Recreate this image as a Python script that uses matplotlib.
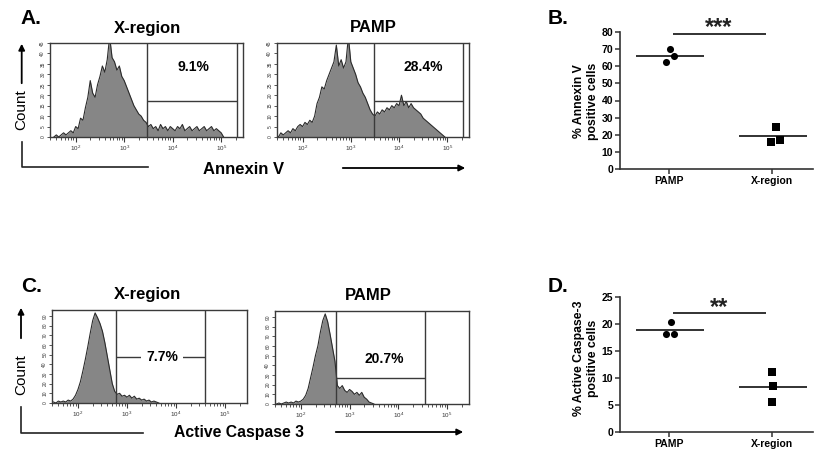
import numpy as np
import matplotlib
matplotlib.use("Agg")
import matplotlib.pyplot as plt
from matplotlib.lines import Line2D
from matplotlib.patches import FancyArrowPatch

plt.rcParams['font.family'] = ['Liberation Sans', 'DejaVu Sans']
plt.rcParams['mathtext.fontset'] = 'custom'
plt.rcParams['mathtext.rm'] = 'Liberation Sans'

# ---------------- data ----------------
BIN_STEP = 0.05  # log10 units per histogram channel

# Panel A: Annexin V histograms (first bin centre, counts)
A_xregion_start = 1.55
A_xregion_counts = [0, 1, 0, 1, 2, 1, 2, 3, 2,
                    5, 4, 9, 8, 14, 19, 27, 21, 19, 25,
                    29, 34, 31, 37, 48, 38, 36, 32, 34, 29,
                    27, 24, 21, 18, 15, 13, 11, 10, 8, 7,
                    5, 6, 4, 5, 3, 6, 4, 5, 3, 5,
                    4, 3, 5, 4, 6, 3, 4, 5, 3, 4,
                    5, 3, 4, 5, 3, 4, 5, 3, 4, 3,
                    2, 0]
A_pamp_start = 1.45
A_pamp_counts = [1, 0, 2, 1, 2, 3, 2, 4, 3, 5,
                 6, 5, 7, 6, 8, 7, 10, 16, 19, 24,
                 23, 27, 30, 33, 36, 44, 34, 37, 33, 36,
                 48, 36, 33, 30, 26, 24, 21, 19, 16, 13,
                 11, 10, 12, 11, 13, 12, 14, 13, 15, 14,
                 16, 15, 20, 15, 17, 14, 16, 14, 13, 12,
                 11, 9, 8, 7, 6, 5, 4, 3, 2, 1, 0]
A_gate = [3.48, 5.32]      # gate start / end (log10)
A_gate_level = 17          # count level of gate line
A_pct = ["9.1%", "28.4%"]

# Panel C: Active Caspase 3 histograms
C_xregion_start = 1.50
C_xregion_counts = [1, 0, 2, 1, 2, 1, 3, 2, 4, 8,
                    14, 22, 33, 45, 58, 72, 85, 93, 88, 82,
                    74, 62, 48, 34, 20, 12, 9, 10, 7, 8,
                    6, 8, 5, 7, 4, 5, 3, 4, 2, 3,
                    1, 2, 1, 0]
C_pamp_start = 1.50
C_pamp_counts = [0, 1, 0, 1, 2, 1, 2, 1, 3, 2,
                 3, 5, 9, 16, 27, 38, 50, 60, 74, 86,
                 93, 85, 72, 58, 44, 19, 16, 19, 14, 12,
                 15, 13, 10, 12, 9, 12, 7, 5, 2, 1, 0]
C_gate_xregion = [2.77, 4.60]
C_gate_pamp = [2.72, 4.55]
C_gate_level = [47, 27]
C_pct = ["7.7%", "20.7%"]

hist_ticks = [2, 3, 4, 5]
hist_ticklabels = [r'$10^2$', r'$10^3$', r'$10^4$', r'$10^5$']

# Panels B and D: dot plots
groups = ["PAMP", "X-region"]
B_pamp = [70.2, 65.8, 62.3]
B_xregion = [24.7, 16.0, 16.7]
D_pamp = [20.3, 18.1, 18.2]
D_xregion = [11.1, 8.5, 5.5]

# ---------------- layout helpers ----------------
W, H = 814, 451
fig = plt.figure(figsize=(W / 100, H / 100), dpi=100)


def rect(x0, y0, x1, y1):
    return [x0 / W, 1 - y1 / H, (x1 - x0) / W, (y1 - y0) / H]


def ftext(x, y, s, **kw):
    return fig.text(x / W, 1 - y / H, s, **kw)


def fline(xs, ys, **kw):
    fig.add_artist(Line2D([x / W for x in xs], [1 - y / H for y in ys],
                          transform=fig.transFigure, **kw))


def farrow(p0, p1):
    fig.add_artist(FancyArrowPatch((p0[0] / W, 1 - p0[1] / H), (p1[0] / W, 1 - p1[1] / H),
                                   transform=fig.transFigure, arrowstyle='-|>',
                                   mutation_scale=9, lw=1.3, color='black'))


FRAME = '#3a3a3a'


def hist_panel(r, start, counts, ymax, ymajor, gate, level):
    ax = fig.add_axes(r)
    n = len(counts)
    centers = start + BIN_STEP * np.arange(n)
    ax.fill_between(centers, 0, counts, color='#868686', lw=0, zorder=1)
    ax.plot(centers, counts, color='#2b2b2b', lw=0.8, zorder=2)
    ax.axvline(gate[0], color=FRAME, lw=1.0, zorder=3)
    ax.axvline(gate[1], color=FRAME, lw=1.0, zorder=3)
    ax.hlines(level, gate[0], gate[1], color=FRAME, lw=1.0, zorder=3)
    ax.set_xlim(1.47, 5.45)
    ax.set_ylim(0, ymax)
    ax.set_xticks(hist_ticks)
    ax.set_xticklabels(hist_ticklabels, fontsize=4.5, color='#333')
    minor = [d + np.log10(k) for d in range(1, 6) for k in range(2, 10)]
    minor = [m for m in minor if 1.47 < m < 5.45]
    ax.set_xticks(minor, minor=True)
    ax.set_yticks(ymajor)
    ax.set_yticklabels([str(v) for v in ymajor], fontsize=3.5, rotation=90,
                       va='center', color='#333')
    ax.tick_params(axis='x', which='major', length=3.5, width=0.8, pad=1.5, color=FRAME)
    ax.tick_params(axis='x', which='minor', length=2, width=0.6, color=FRAME)
    ax.tick_params(axis='y', which='major', length=2.5, width=0.6, pad=0.8, color=FRAME)
    for s in ax.spines.values():
        s.set_color(FRAME)
        s.set_linewidth(1.0)
    return ax


# ---------------- Panel A ----------------
hist_panel(rect(50, 43, 243, 137), A_xregion_start, A_xregion_counts, 45,
           list(range(0, 46, 5)), A_gate, A_gate_level)
hist_panel(rect(277, 43, 469, 137), A_pamp_start, A_pamp_counts, 45,
           list(range(0, 46, 5)), A_gate, A_gate_level)

ftext(31, 19, "A.", fontsize=15, fontweight='bold', ha='center', va='center')
ftext(147, 28, "X-region", fontsize=12, fontweight='bold', ha='center', va='center')
ftext(373, 28, "PAMP", fontsize=12, fontweight='bold', ha='center', va='center')
ftext(193, 67, A_pct[0], fontsize=10, fontweight='bold', ha='center', va='center')
ftext(423, 67, A_pct[1], fontsize=10, fontweight='bold', ha='center', va='center')

farrow((21.7, 86), (21.7, 41))
ftext(21, 110, "Count", fontsize=11, rotation=90, ha='center', va='center')
fline([21.7, 21.7, 148], [142, 167, 167], color='#222', lw=1.2)
ftext(244, 170, "Annexin V", fontsize=12, fontweight='bold', ha='center', va='center')
farrow((340, 168), (468, 168))

# ---------------- Panel C ----------------
hist_panel(rect(52, 310, 247, 403), C_xregion_start, C_xregion_counts, 96,
           list(range(0, 91, 10)), C_gate_xregion, C_gate_level[0])
hist_panel(rect(275, 311, 469, 404), C_pamp_start, C_pamp_counts, 96,
           list(range(0, 91, 10)), C_gate_pamp, C_gate_level[1])

ftext(32, 287, "C.", fontsize=15, fontweight='bold', ha='center', va='center')
ftext(147, 294, "X-region", fontsize=12, fontweight='bold', ha='center', va='center')
ftext(368, 295, "PAMP", fontsize=12, fontweight='bold', ha='center', va='center')
ftext(162, 357, C_pct[0], fontsize=10, fontweight='bold', ha='center', va='center',
      bbox=dict(boxstyle='square,pad=0.35', fc='white', ec='none'), zorder=10)
ftext(384, 359, C_pct[1], fontsize=10, fontweight='bold', ha='center', va='center')

farrow((21, 341), (21, 305))
ftext(21, 375, "Count", fontsize=11, rotation=90, ha='center', va='center')
fline([21, 21, 143], [407, 433, 433], color='#222', lw=1.2)
ftext(239, 433, "Active Caspase 3", fontsize=11.3, fontweight='bold', ha='center', va='center')
farrow((333, 432), (466, 432))


# ---------------- dot plots ----------------
def dot_panel(r, pamp, xreg, ymax, ystep, sig_y, star_y, stars, jit_p, jit_x):
    ax = fig.add_axes(r)
    pos = [1, 2]
    ax.scatter([pos[0] + j for j in jit_p], pamp, marker='o', s=26, color='black',
               zorder=3, clip_on=False, linewidths=0)
    ax.scatter([pos[1] + j for j in jit_x], xreg, marker='s', s=26, color='black',
               zorder=3, clip_on=False, linewidths=0)
    for p, vals in zip(pos, [pamp, xreg]):
        ax.hlines(np.mean(vals), p - 0.32, p + 0.34, color='#222', lw=1.3)
    ax.hlines(sig_y, 1.04, 1.94, color='#222', lw=1.3, clip_on=False)
    ax.text(1.485, star_y, stars, fontsize=17, fontweight='bold', ha='center',
            va='center', clip_on=False, color='#222')
    ax.set_xlim(0.524, 2.40)
    ax.set_ylim(0, ymax)
    ax.set_yticks(np.arange(0, ymax + 0.1, ystep))
    ax.set_xticks(pos)
    ax.set_xticklabels(groups, fontsize=7.5, fontweight='bold')
    for lab in ax.get_yticklabels():
        lab.set_fontweight('bold')
        lab.set_fontsize(7.5)
    ax.spines['top'].set_visible(False)
    ax.spines['right'].set_visible(False)
    for s in ['left', 'bottom']:
        ax.spines[s].set_color('#333')
        ax.spines[s].set_linewidth(1.2)
    ax.tick_params(length=3.5, width=1.1, color='#333', pad=1.5)
    return ax


dot_panel(rect(620, 32, 813, 169), B_pamp, B_xregion, 80, 10, 79, 82.5, "***",
          [0.013, 0.051, -0.029], [0.036, -0.007, 0.075])
ftext(558, 19, "B.", fontsize=15, fontweight='bold', ha='center', va='center')
ftext(586, 101, "% Annexin V\npositive cells", fontsize=8.8, fontweight='bold',
      rotation=90, ha='center', va='center', multialignment='center', linespacing=1.15)

dot_panel(rect(620, 297, 813, 432), D_pamp, D_xregion, 25, 5, 22.05, 23.0, "**",
          [0.016, -0.029, 0.051], [0.003, 0.010, 0.003])
ftext(558, 287, "D.", fontsize=15, fontweight='bold', ha='center', va='center')
ftext(586, 358, "% Active Caspase-3\npositive cells", fontsize=8.8, fontweight='bold',
      rotation=90, ha='center', va='center', multialignment='center', linespacing=1.15)

fig.savefig("out.png", dpi=100)
